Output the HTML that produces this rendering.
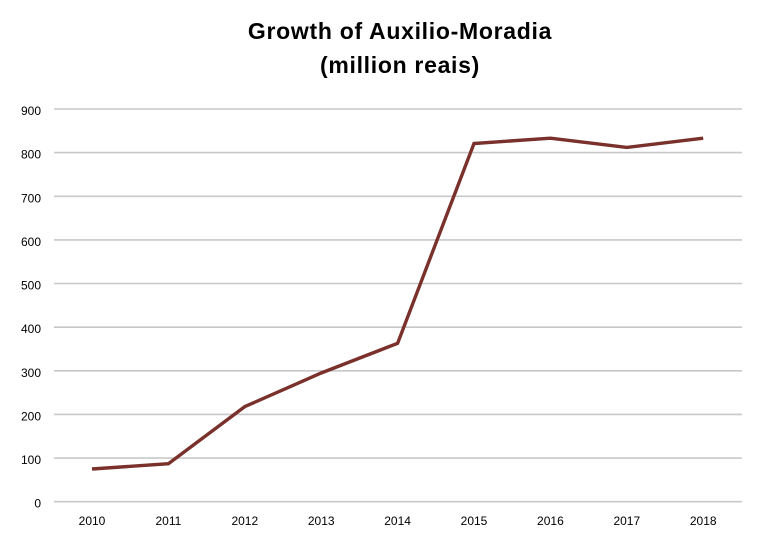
<!DOCTYPE html>
<html>
<head>
<meta charset="utf-8">
<style>
html,body{margin:0;padding:0;background:#fff;}
body{width:760px;height:543px;overflow:hidden;}
svg text{font-family:"Liberation Sans",Arial,sans-serif;}
</style>
</head>
<body>
<svg width="760" height="543" viewBox="0 0 760 543" xmlns="http://www.w3.org/2000/svg">
  <rect width="760" height="543" fill="#fff"/>
  <text x="400" y="39" text-anchor="middle" font-size="23" font-weight="bold" letter-spacing="0.7" fill="#000">Growth of Auxilio-Moradia</text>
  <text x="400" y="73" text-anchor="middle" font-size="23" font-weight="bold" letter-spacing="0.7" fill="#000">(million reais)</text>
  <g stroke="#c8c8c8" stroke-width="1.6">
    <line x1="54" x2="742" y1="109" y2="109"/>
    <line x1="54" x2="742" y1="152.6" y2="152.6"/>
    <line x1="54" x2="742" y1="196.3" y2="196.3"/>
    <line x1="54" x2="742" y1="239.9" y2="239.9"/>
    <line x1="54" x2="742" y1="283.5" y2="283.5"/>
    <line x1="54" x2="742" y1="327.2" y2="327.2"/>
    <line x1="54" x2="742" y1="370.8" y2="370.8"/>
    <line x1="54" x2="742" y1="414.4" y2="414.4"/>
    <line x1="54" x2="742" y1="458.1" y2="458.1"/>
    <line x1="54" x2="742" y1="501.7" y2="501.7"/>
  </g>
  <g font-size="12" fill="#000" text-anchor="end">
    <text x="41" y="115">900</text>
    <text x="41" y="158.6">800</text>
    <text x="41" y="202.3">700</text>
    <text x="41" y="245.9">600</text>
    <text x="41" y="289.5">500</text>
    <text x="41" y="333.2">400</text>
    <text x="41" y="376.8">300</text>
    <text x="41" y="420.4">200</text>
    <text x="41" y="464.1">100</text>
    <text x="41" y="507.7">0</text>
  </g>
  <g font-size="12" fill="#000" text-anchor="middle">
    <text x="92" y="525">2010</text>
    <text x="168.4" y="525">2011</text>
    <text x="244.8" y="525">2012</text>
    <text x="321.2" y="525">2013</text>
    <text x="397.6" y="525">2014</text>
    <text x="474" y="525">2015</text>
    <text x="550.4" y="525">2016</text>
    <text x="626.8" y="525">2017</text>
    <text x="703.2" y="525">2018</text>
  </g>
  <polyline fill="none" stroke="#7a302b" stroke-width="3.4" stroke-linejoin="miter"
    points="92,469 168.4,463.7 244.8,406.6 321.2,373 397.6,343.3 474,143.5 550.4,138.2 626.8,147.4 703.2,138.2"/>
</svg>
</body>
</html>
